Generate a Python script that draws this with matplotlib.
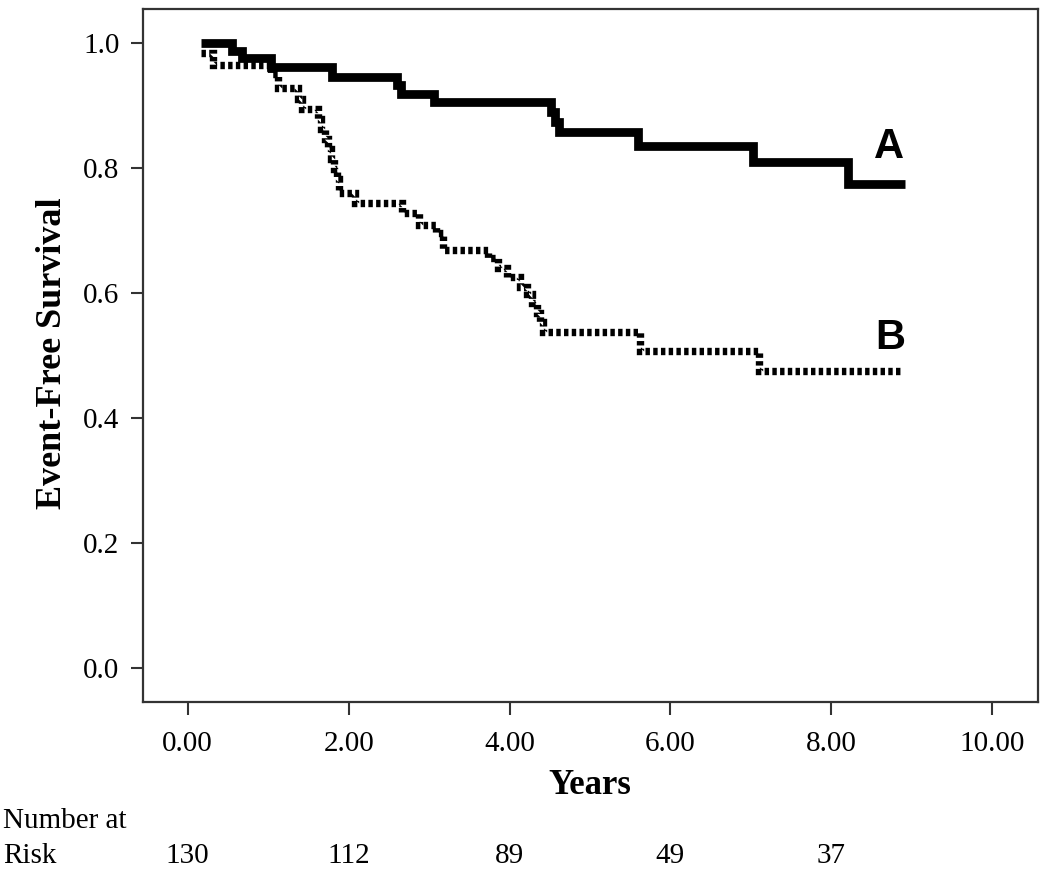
import numpy as np
import matplotlib
matplotlib.use("Agg")
import matplotlib.pyplot as plt

# group A (solid): event times and survival after each step
time_a = [0.17, 0.55, 0.67, 1.04, 1.79, 2.60, 2.65, 3.06, 4.52, 4.57, 4.62, 5.60, 7.02, 8.21]
surv_a = [1.000, 0.987, 0.975, 0.962, 0.946, 0.932, 0.918, 0.905, 0.890, 0.874, 0.858, 0.835, 0.810, 0.774]
end_a = 8.92

# group B (dotted)
time_b = [0.17, 0.32, 1.03, 1.12, 1.37, 1.42, 1.62, 1.66, 1.70, 1.74, 1.78, 1.82, 1.85, 1.88,
          2.08, 2.66, 2.88, 3.08, 3.17, 3.73, 3.85, 3.97, 4.13, 4.22, 4.28, 4.34, 4.38, 4.42,
          5.62, 7.10]
surv_b = [0.983, 0.965, 0.950, 0.927, 0.910, 0.894, 0.878, 0.862, 0.846, 0.830, 0.814, 0.798, 0.782, 0.760,
          0.743, 0.727, 0.708, 0.695, 0.668, 0.655, 0.640, 0.625, 0.610, 0.598, 0.583, 0.568, 0.554, 0.538,
          0.507, 0.475]
end_b = 8.87

risk_years = [0, 2, 4, 6, 8]
risk_counts = [130, 112, 89, 49, 37]

SERIF = "Liberation Serif"

fig = plt.figure(figsize=(10.5, 8.82), dpi=100)
ax = fig.add_axes([143 / 1050, 1 - 702 / 882, (1037.7 - 143) / 1050, (702 - 9) / 882])

xa = time_a + [end_a]
ya = surv_a + [surv_a[-1]]
xb = time_b + [end_b]
yb = surv_b + [surv_b[-1]]

ax.step(xa, ya, where="post", color="black", lw=6.3, solid_joinstyle="miter", solid_capstyle="butt")
ax.step(xb, yb, where="post", color="black", lw=5.3, linestyle=(0, (0.6, 0.45)),
        dash_capstyle="butt", dash_joinstyle="miter")

ax.set_xlim(-0.556, 10.564)
ax.set_ylim(-0.0544, 1.054)
ax.set_xticks(np.arange(0, 11, 2))
ax.set_xticklabels([f"{v:.2f}" for v in np.arange(0, 11, 2)])
ax.set_yticks(np.arange(0, 1.01, 0.2))
ax.set_yticklabels([f"{v:.1f}" for v in np.arange(0, 1.01, 0.2)])
ax.tick_params(direction="out", length=9, width=1.5, color="#333333", labelsize=21)
ax.tick_params(axis="x", pad=12)
ax.tick_params(axis="y", pad=8)
for lab in ax.get_xticklabels() + ax.get_yticklabels():
    lab.set_fontfamily(SERIF)
for sp in ax.spines.values():
    sp.set_linewidth(1.6)
    sp.set_color("#333333")

ax.text(8.72, 0.833, "A", ha="center", va="center", fontsize=30, fontweight="bold",
        family="Liberation Sans")
ax.text(8.73, 0.528, "B", ha="center", va="center", fontsize=30, fontweight="bold",
        family="Liberation Sans")

fig.text(53 / 1050, 1 - 353 / 882, "Event-Free Survival", rotation=90, ha="center", va="center",
         fontsize=26, fontweight="bold", family=SERIF)
fig.text(590 / 1050, 1 - 785 / 882, "Years", ha="center", va="center",
         fontsize=25, fontweight="bold", family=SERIF)

fig.text(3 / 1050, 1 - 828 / 882, "Number at", ha="left", va="baseline", fontsize=21, family=SERIF)
fig.text(3 / 1050, 1 - 863 / 882, "Risk", ha="left", va="baseline", fontsize=21, family=SERIF)
for yr, n in zip(risk_years, risk_counts):
    ax.text(yr, -161 / 693, str(n), ha="center", va="baseline", fontsize=21, family=SERIF,
            transform=ax.get_xaxis_transform())

fig.savefig("out.png", dpi=100)
